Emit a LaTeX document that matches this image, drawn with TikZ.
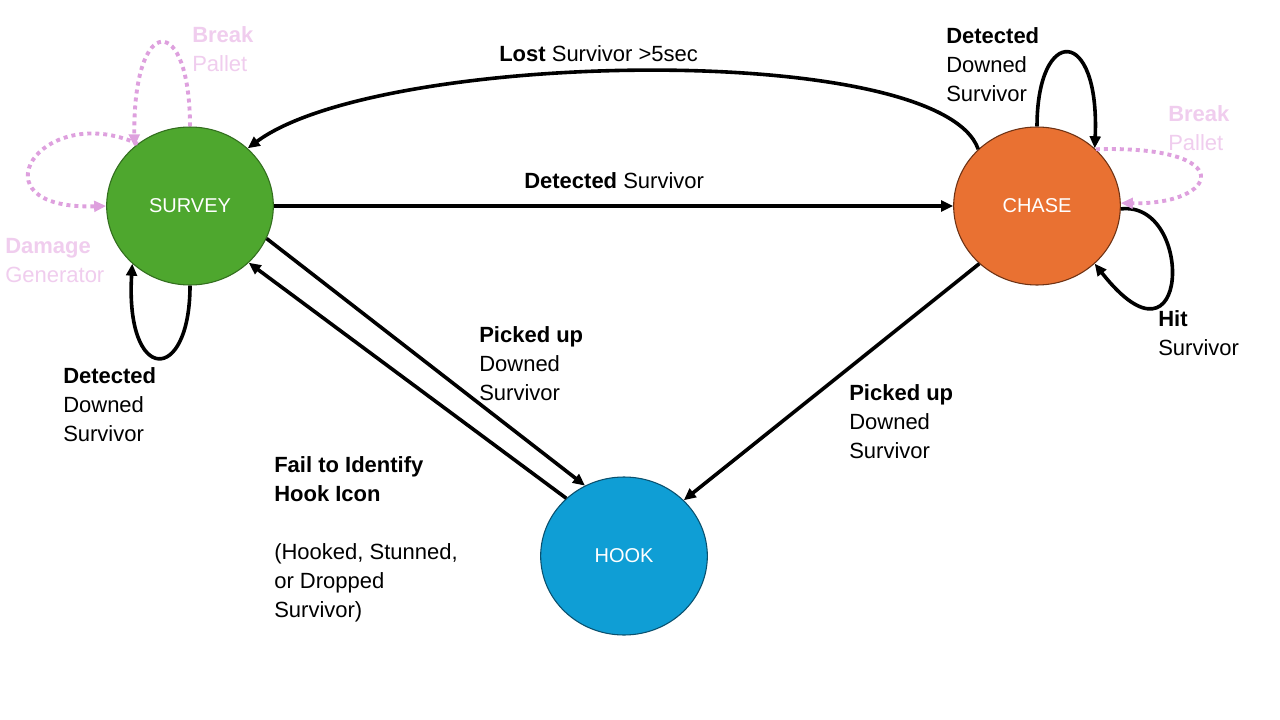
\documentclass[tikz,border=0pt]{standalone}
\usepackage{fontspec}
\setmainfont{Liberation Sans}
\usetikzlibrary{arrows.meta,shapes.geometric}
\definecolor{sgreen}{RGB}{78,167,46}
\definecolor{sgreenb}{RGB}{50,110,30}
\definecolor{corange}{RGB}{233,113,50}
\definecolor{corangeb}{RGB}{110,50,20}
\definecolor{hblue}{RGB}{15,158,213}
\definecolor{hblueb}{RGB}{10,80,110}
\definecolor{pinkline}{RGB}{222,160,222}
\definecolor{pinktext}{RGB}{240,205,238}
\begin{document}
\begin{tikzpicture}[x=0.75pt,y=-0.75pt,
  state/.style={ellipse, draw, line width=0.8pt, minimum width=125pt, minimum height=118.5pt, inner sep=0pt, text=white, font=\fontsize{15}{18}\selectfont},
  lbl/.style={anchor=north west, inner sep=0pt, align=left, font=\fontsize{16.5}{21.75}\selectfont},
  plbl/.style={lbl, text=pinktext},
  edgearrow/.style={line width=2.7pt, -{Triangle[length=9pt,width=8pt]}},
  pedge/.style={line width=2.9pt, draw=pinkline, dash pattern=on 3pt off 3pt, -{Triangle[length=9pt,width=8pt]}},
]
\useasboundingbox (0,0) rectangle (1280,720);
\fill[white] (0,0) rectangle (1280,720);

% states
\node[state, fill=sgreen, draw=sgreenb] (survey) at (190,206) {SURVEY};
\node[state, fill=corange, draw=corangeb] (chase) at (1037,206) {CHASE};
\node[state, fill=hblue, draw=hblueb] (hook) at (624,556) {HOOK};

% main transitions
\draw[edgearrow] (survey.east) -- (chase.west);
\draw[edgearrow] (chase.136) .. controls (940,40) and (380,50) .. (survey.45);
\draw[edgearrow] (survey.-23) -- (hook.119);
\draw[edgearrow] (hook.135) -- (survey.-44);
\draw[edgearrow] (chase.-135) -- (hook.43.5);

% self loops
\draw[edgearrow] (survey.270) .. controls (190,385) and (125,385) .. (survey.225);
\draw[edgearrow] (chase.90) .. controls (1037,25) and (1100,25) .. (chase.45);
\draw[edgearrow] (chase.-2) .. controls (1195,200) and (1190,385) .. (chase.-45);

% pink dotted loops
\draw[pedge] (survey.90) .. controls (190,12) and (133,12) .. (survey.133);
\draw[pedge] (survey.130) .. controls (40,100) and (-30,210) .. (survey.180);
\draw[pedge] (chase.44) .. controls (1240,145) and (1220,205) .. (chase.2);

% labels
\node[lbl] (lLost) at (499,45) {\textbf{Lost} Survivor >5sec};
\node[lbl] (lDet) at (524,172) {\textbf{Detected} Survivor};
\node[lbl] (lSdown) at (63,367) {\textbf{Detected}\\Downed\\Survivor};
\node[lbl] (lCdown) at (946,27) {\textbf{Detected}\\Downed\\Survivor};
\node[lbl] (lHit) at (1158,310) {\textbf{Hit}\\Survivor};
\node[lbl] (lPick1) at (479,326) {\textbf{Picked up}\\Downed\\Survivor};
\node[lbl] (lPick2) at (849,384) {\textbf{Picked up}\\Downed\\Survivor};
\node[lbl] (lFail) at (274,456) {\textbf{Fail to Identify}\\\textbf{Hook Icon}\\[21.75pt](Hooked, Stunned,\\or Dropped\\Survivor)};
\node[plbl] (lSbreak) at (192,26) {\textbf{Break}\\Pallet};
\node[plbl] (lDamage) at (5,238) {\textbf{Damage}\\Generator};
\node[plbl] (lCbreak) at (1168,105) {\textbf{Break}\\Pallet};
\end{tikzpicture}
\end{document}
